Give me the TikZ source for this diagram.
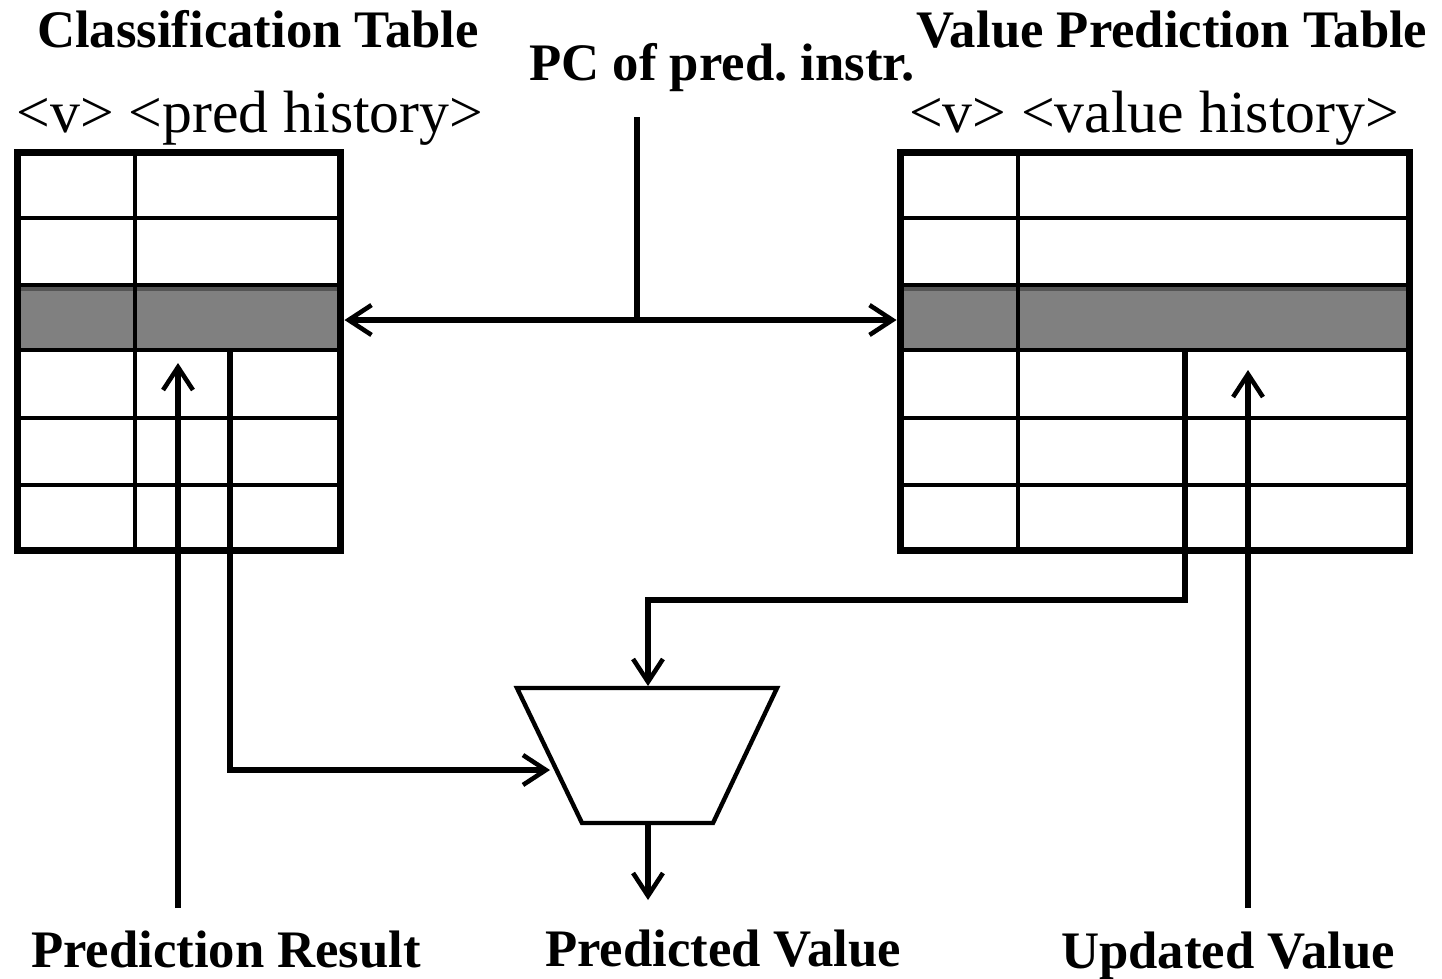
\documentclass[tikz,border=0pt]{standalone}
\usepackage{fontspec}
\setmainfont{Liberation Serif}
\usetikzlibrary{arrows.meta,calc,positioning}

\begin{document}
\begin{tikzpicture}[x=0.02cm,y=-0.02cm]
%% styles
\tikzstyle{title}=[font=\fontsize{30}{32}\selectfont\bfseries,inner sep=0pt,anchor=base]
\tikzstyle{field}=[font=\fontsize{34}{36}\selectfont,inner sep=0pt,anchor=base]
\tikzstyle{tbl}=[draw=black,line width=4pt,inner sep=0pt,minimum height=7.98cm]
\tikzstyle{cell}=[line width=1.8pt]
\tikzstyle{wire}=[line width=3.8pt]
\tikzstyle{arr}=[wire,-{Straight Barb[length=13pt,width=17pt,line width=2.6pt]}]
\tikzstyle{mux}=[draw=black,line width=2.5pt,line join=miter]
\useasboundingbox (0,0) rectangle (1442,978);

%%%%%%%%%%%%%%%%%%%%%%%%%%%%%%%%%%%%%%%%%%%%%%%%%%%%%%%%%%%%%%
%TABLES
% selected row
\fill[black!50] (17,285) rectangle (341,350);
\fill[black!67] (17,285) rectangle (341,291);
\fill[black!50] (900,285) rectangle (1410,350);
\fill[black!67] (900,285) rectangle (1410,291);
% cells
\foreach \y in {218,285,418,485}{
  \draw[cell] (17,\y) -- (341,\y);
  \draw[cell] (900,\y) -- (1410,\y);
}
\draw[cell,line width=2.3pt] (17,350) -- (341,350);
\draw[cell,line width=2.3pt] (900,350) -- (1410,350);
\draw[cell] (135,152) -- (135,551);
\draw[cell] (1018,152) -- (1018,551);
% frames
\node[tbl,minimum width=6.48cm] (ctab) at (179,351.5) {};
\node[tbl,minimum width=10.2cm] (vtab) at (1155,351.5) {};

%MUX
\coordinate (muxtl) at (517,688);
\coordinate (muxtr) at (777,688);
\coordinate (muxbr) at (713,823);
\coordinate (muxbl) at (582,823);
\draw[mux] (muxtl) -- (muxtr) -- (muxbr) -- (muxbl) -- cycle;
\coordinate (muxn) at (648,686);
\coordinate (muxs) at (648,823);
\coordinate (muxw) at (550,770);

%%%%%%%%%%%%%%%%%%%%%%%%%%%%%%%%%%%%%%%%%%%%%%%%%%%%%%%%%%%%%%
%LABELS
\node[title] (ctitle) at (258,47) {Classification Table};
\node[title] (pctitle) at (722,80) {PC of pred.\ instr.};
\node[title] (vtitle) at (1172,47) {Value Prediction Table};
\node[field] (cfield) at (250,132) {<v> <pred history>};
\node[field] (vfield) at (1154,132) {<v> <value history>};
\node[title] (presult) at (226,967) {Prediction Result};
\node[title,text depth=0pt] (pvalue) at (723,966) {Predicted Value};
\node[title] (uvalue) at (1228,968) {Updated Value};

%%%%%%%%%%%%%%%%%%%%%%%%%%%%%%%%%%%%%%%%%%%%%%%%%%%%%%%%%%%%%%
%ARROWS
\coordinate (pc) at (637,117);
\coordinate (pcj) at (637,320);
\coordinate (cout) at (230,350);
\coordinate (vout) at (1185,350);
\coordinate (vbend) at (1185,600);
\coordinate (pres) at (178,908);
\coordinate (presin) at (178,363);
\coordinate (upd) at (1248,908);
\coordinate (updin) at (1248,370);
\coordinate (pval) at (648,900);
% PC -> tables
\draw[wire] (pc) -- (pcj);
\draw[arr] (pcj) -- (ctab.east |- pcj);
\draw[arr] (pcj) -- (vtab.west |- pcj);
% tables -> mux
\draw[arr] (cout) |- (muxw);
\draw[arr] (vout) -- (vbend) -| (muxn);
\draw[arr] (muxs) -- (pval);
% updates
\draw[arr] (pres) -- (presin);
\draw[arr] (upd) -- (updin);
\end{tikzpicture}
\end{document}
